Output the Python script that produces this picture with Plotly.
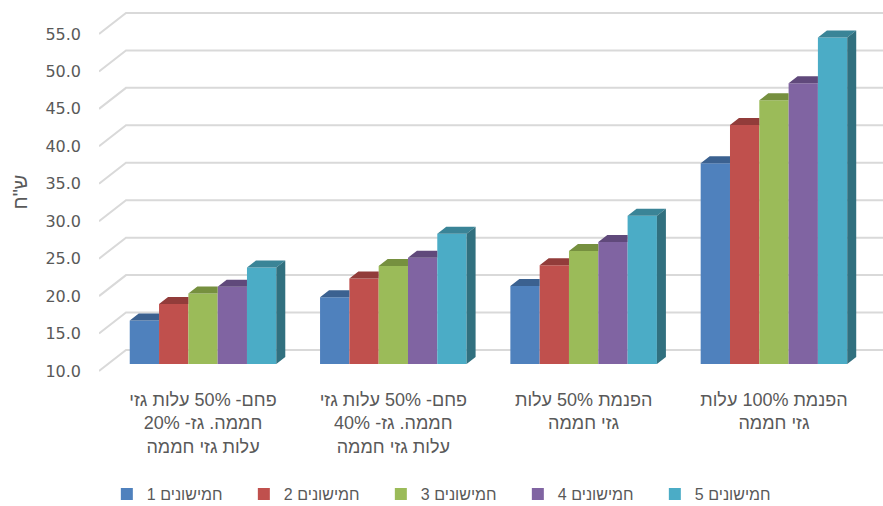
import plotly.graph_objects as go

# ---- data ----
categories = [
    "פחם- 50% עלות גזי חממה. גז- 20% עלות גזי חממה",
    "פחם- 50% עלות גזי חממה. גז- 40% עלות גזי חממה",
    "הפנמת 50% עלות גזי חממה",
    "הפנמת 100% עלות גזי חממה",
]
tick_labels = [
    "פחם- 50% עלות גזי<br>חממה. גז- 20%<br>עלות גזי חממה",
    "פחם- 50% עלות גזי<br>חממה. גז- 40%<br>עלות גזי חממה",
    "הפנמת 50% עלות<br>גזי חממה",
    "הפנמת 100% עלות<br>גזי חממה",
]
series_names = ["חמישונים 1", "חמישונים 2", "חמישונים 3", "חמישונים 4", "חמישונים 5"]
q1 = [15.8, 18.9, 20.4, 36.8]
q2 = [18.0, 21.4, 23.2, 41.9]
q3 = [19.4, 23.1, 25.1, 45.2]
q4 = [20.3, 24.2, 26.3, 47.5]
q5 = [22.9, 27.4, 29.8, 53.6]
y_ticks = [10, 15, 20, 25, 30, 35, 40, 45, 50, 55]
y_title = 'ש"ח'

series = [q1, q2, q3, q4, q5]
front_colors = ["#4F81BD", "#C0504D", "#9BBB59", "#8064A2", "#4BACC6"]
top_colors = ["#3B6190", "#923C3A", "#76903F", "#60497B", "#3A8497"]
side_color = "#31707F"

# ---- geometry (styling) ----
BASE = 10
BARGAP = 0.23
n_s = len(series)
w = (1 - BARGAP) / n_s
dx = 9 / 190.3        # bar depth offset (x units)
dy = 7 / 7.49         # bar depth offset (y units)
x_lo, x_hi = -0.5465, 3.573
wall_dx = 27 / 190.3
front_off = -7 / 7.49
back_off = 14 / 7.49

ARIAL = "Arial, Liberation Sans, sans-serif"
DEJAVU = "DejaVu Sans, Arial, sans-serif"

xs = list(range(len(categories)))
fig = go.Figure()

# front faces
for k, (name, vals) in enumerate(zip(series_names, series)):
    fig.add_trace(go.Bar(
        x=xs, y=[v - BASE for v in vals], base=BASE, name=name,
        marker=dict(color=front_colors[k], line=dict(width=0)),
        hovertext=[f"{c}: {v}" for c, v in zip(categories, vals)],
        hoverinfo="text+name",
    ))

# top and side faces (3D effect)
for k, vals in enumerate(series):
    tx, ty = [], []
    for i, v in enumerate(vals):
        c = xs[i] + (k - (n_s - 1) / 2) * w
        L, R = c - w / 2, c + w / 2
        if k == n_s - 1:
            tx += [L, R, R + dx, L + dx, L, None]
        else:
            tx += [L, R, R, L + dx, L, None]
        ty += [v, v, v + dy, v + dy, v, None]
    fig.add_trace(go.Scatter(x=tx, y=ty, mode="lines", fill="toself",
                             fillcolor=top_colors[k], line=dict(width=0),
                             showlegend=False, hoverinfo="skip"))
    if k == n_s - 1:
        sx, sy = [], []
        for i, v in enumerate(vals):
            c = xs[i] + (k - (n_s - 1) / 2) * w
            R = c + w / 2
            sx += [R, R, R + dx, R + dx, R, None]
            sy += [BASE, v, v + dy, BASE + dy, BASE, None]
        fig.add_trace(go.Scatter(x=sx, y=sy, mode="lines", fill="toself",
                                 fillcolor=side_color, line=dict(width=0),
                                 showlegend=False, hoverinfo="skip"))

# back-wall gridlines with side-wall diagonals
shapes = []
for t in y_ticks:
    path = (f"M {x_lo},{t + front_off} L {x_lo + wall_dx},{t + back_off} "
            f"L {x_hi},{t + back_off}")
    shapes.append(dict(type="path", path=path, xref="x", yref="y",
                       line=dict(color="#D9D9D9", width=2), layer="below"))

fig.update_layout(
    width=883, height=506,
    margin=dict(l=99, r=0, t=12, b=134, autoexpand=False),
    paper_bgcolor="white", plot_bgcolor="white",
    barmode="group", bargap=BARGAP, bargroupgap=0,
    font=dict(family=ARIAL, color="#595959", size=16),
    shapes=shapes,
    showlegend=True,
    legend=dict(orientation="h", x=0.01, xanchor="left", y=-0.339, yanchor="middle",
                entrywidth=92, entrywidthmode="pixels",
                font=dict(size=16, color="#595959", family=ARIAL), traceorder="normal"),
    xaxis=dict(range=[x_lo, x_hi], tickvals=xs, ticktext=tick_labels, automargin=False,
               showgrid=False, zeroline=False, showline=False, ticks="",
               ticklabelstandoff=15, tickfont=dict(size=18, color="#595959", family=ARIAL)),
    yaxis=dict(range=[8.93, 57.0], tickvals=y_ticks, automargin=False,
               ticktext=[f"{t:.1f}" for t in y_ticks],
               showgrid=False, zeroline=False, showline=False, ticks="",
               ticklabelshift=7, ticklabelstandoff=17,
               tickfont=dict(size=16, color="#595959", family=DEJAVU),
               title=dict(text=y_title, font=dict(size=20, color="#595959", family=ARIAL),
                          standoff=12)),
)

fig.write_html("out.html")
